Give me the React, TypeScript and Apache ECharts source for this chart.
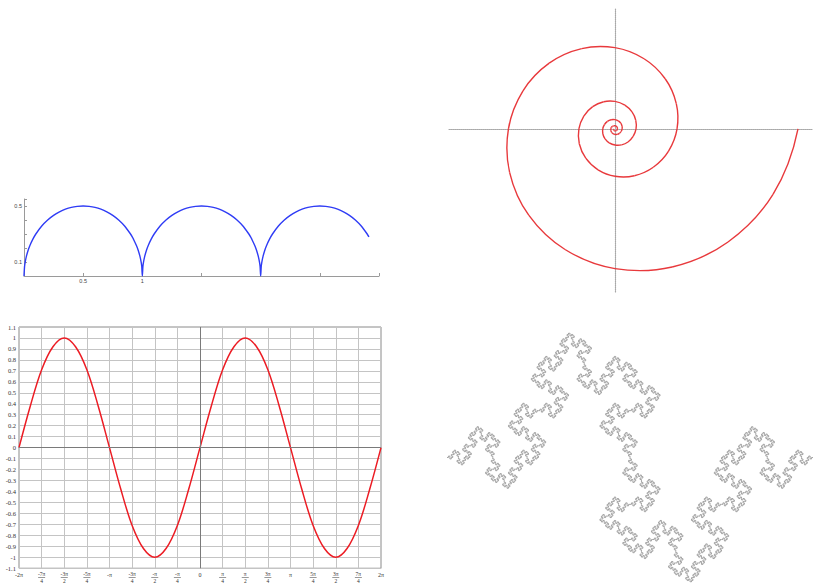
import React, { useEffect, useRef } from "react";
import * as echarts from "echarts";

// ---- Semicircular arches (unit width, height 0.5) ----
const ARCH_STARTS = [0, 1, 2];
const ARCH_END_X = 2.915;
const ARCH_PROFILE_X = [0, 0.005, 0.01, 0.02, 0.035, 0.05, 0.075, 0.1, 0.15, 0.2, 0.25, 0.3, 0.35, 0.4, 0.45, 0.5, 0.55, 0.6, 0.65, 0.7, 0.75, 0.8, 0.85, 0.9, 0.915, 0.925, 0.95, 0.965, 0.98, 0.99, 0.995, 1];
const ARCH_PROFILE_Y = [0, 0.0705, 0.0995, 0.14, 0.184, 0.218, 0.263, 0.3, 0.357, 0.4, 0.433, 0.458, 0.477, 0.49, 0.497, 0.5, 0.497, 0.49, 0.477, 0.458, 0.433, 0.4, 0.357, 0.3, 0.279, 0.263, 0.218, 0.184, 0.14, 0.0995, 0.0705, 0];
const ARCH_X_LABELS: Record<string, string> = { "0.5": "0.5", "1": "1" };
const ARCH_Y_LABELS: Record<string, string> = { "0.1": "0.1", "0.5": "0.5" };

// ---- Spiral: radius at every 1/16 turn, walking inward clockwise from the outer end ----
const SPIRAL_STEP_DEG = 22.5;
const SPIRAL_RADII = [
  1.0, 0.9346, 0.8735, 0.8164, 0.763, 0.7131, 0.6665, 0.6229,
  0.5822, 0.5441, 0.5085, 0.4753, 0.4442, 0.4152, 0.388, 0.3626,
  0.339, 0.3168, 0.2961, 0.2767, 0.2586, 0.2417, 0.2259, 0.2111,
  0.1973, 0.1844, 0.1724, 0.1611, 0.1506, 0.1407, 0.1315, 0.1229,
  0.1149, 0.1074, 0.1004, 0.0938, 0.0877, 0.0819, 0.0766, 0.0716,
  0.0669, 0.0625, 0.0584, 0.0546, 0.051, 0.0477, 0.0446, 0.0417,
  0.0389, 0.0364, 0.034, 0.0318, 0.0297, 0.0278, 0.026, 0.0243,
  0.0227, 0.0212, 0.0198, 0.0185, 0.0173, 0.0162, 0.0151, 0.0141,
  0.0132, 0.0123, 0.0115, 0.0108, 0.0101, 0.0094, 0.0088, 0.0082, 0.0077,
];

// ---- Sine wave: x in units of π/4, sampled every π/8 ----
const SINE_X = [-8, -7.5, -7, -6.5, -6, -5.5, -5, -4.5, -4, -3.5, -3, -2.5, -2, -1.5, -1, -0.5, 0, 0.5, 1, 1.5, 2, 2.5, 3, 3.5, 4, 4.5, 5, 5.5, 6, 6.5, 7, 7.5, 8];
const SINE_Y = [0, 0.38, 0.71, 0.92, 1, 0.92, 0.71, 0.38, 0, -0.38, -0.71, -0.92, -1, -0.92, -0.71, -0.38, 0, 0.38, 0.71, 0.92, 1, 0.92, 0.71, 0.38, 0, -0.38, -0.71, -0.92, -1, -0.92, -0.71, -0.38, 0];
const SINE_X_TICKS = ["-2π", "-7π/4", "-3π/2", "-5π/4", "-π", "-3π/4", "-π/2", "-π/4", "0", "π/4", "π/2", "3π/4", "π", "5π/4", "3π/2", "7π/4", "2π"];

// ---- Minkowski sausage (quadratic Koch curve, 8-segment generator) ----
const KOCH_ORDER = 4;
const KOCH_AXIOM = "F";
const KOCH_RULE = "F+F-F-FF+F+F-F";

function kochPoints(order: number): number[][] {
  let s = KOCH_AXIOM;
  for (let i = 0; i < order; i++) s = s.replace(/F/g, KOCH_RULE);
  const dx = [1, 0, -1, 0];
  const dy = [0, 1, 0, -1];
  let x = 0;
  let y = 0;
  let dir = 0;
  const pts: number[][] = [[0, 0]];
  for (const ch of s) {
    if (ch === "F") {
      x += dx[dir];
      y += dy[dir];
      pts.push([x, y]);
    } else if (ch === "+") {
      dir = (dir + 1) & 3;
    } else if (ch === "-") {
      dir = (dir + 3) & 3;
    }
  }
  return pts;
}

function buildArches(): number[][] {
  const out: number[][] = [];
  ARCH_STARTS.forEach((start, ai) => {
    ARCH_PROFILE_X.forEach((px, i) => {
      if (ai > 0 && i === 0) return;
      const x = start + px;
      if (x > ARCH_END_X + 1e-9) return;
      out.push([x, ARCH_PROFILE_Y[i]]);
    });
  });
  return out;
}

function buildSpiral(): number[][] {
  return SPIRAL_RADII.map((r, k) => {
    const t = (-k * SPIRAL_STEP_DEG * Math.PI) / 180;
    return [r * Math.cos(t), r * Math.sin(t)];
  });
}

function keyOf(v: number): string {
  return String(Math.round(v * 1000) / 1000);
}

export default function App() {
  const ref = useRef<HTMLDivElement>(null);

  useEffect(() => {
    if (!ref.current) return;
    const chart = echarts.init(ref.current, undefined, { renderer: "svg" });

    const koch = kochPoints(KOCH_ORDER);
    let minX = Infinity, maxX = -Infinity, minY = Infinity, maxY = -Infinity;
    koch.forEach(([x, y]) => {
      if (x < minX) minX = x;
      if (x > maxX) maxX = x;
      if (y < minY) minY = y;
      if (y > maxY) maxY = y;
    });

    const spiral = buildSpiral();
    const last = spiral.length - 1;

    const serif = "'Liberation Serif', 'DejaVu Serif', serif";
    const sans = "'Liberation Sans', 'DejaVu Sans', sans-serif";
    const dotted = { color: "#a8a8a8", width: 1.2, type: [1, 1] };

    chart.setOption({
      animation: false,
      backgroundColor: "#ffffff",
      grid: [
        { left: 24, top: 199, width: 355, height: 77 },
        { left: 449, top: 8, width: 364, height: 284 },
        { left: 19, top: 327, width: 362, height: 243, show: true, borderColor: "#8a8a8a", borderWidth: 1 },
        { left: 447, top: 333, width: 366, height: 249 },
      ],
      xAxis: [
        {
          gridIndex: 0,
          type: "value",
          min: 0,
          max: 3,
          interval: 0.5,
          axisLine: { lineStyle: { color: "#9a9a9a", width: 1 } },
          axisTick: { inside: true, length: 3, lineStyle: { color: "#9a9a9a" } },
          splitLine: { show: false },
          axisLabel: {
            margin: 2,
            fontSize: 5.5,
            fontFamily: sans,
            color: "#444",
            formatter: (v: number) => ARCH_X_LABELS[keyOf(v)] || "",
          },
        },
        {
          gridIndex: 1,
          type: "value",
          min: -0.907,
          max: 1.082,
          axisLine: { onZero: true, lineStyle: dotted },
          axisTick: { show: false },
          axisLabel: { show: false },
          splitLine: { show: false },
        },
        {
          gridIndex: 2,
          type: "value",
          min: -8,
          max: 8,
          interval: 1,
          axisLine: { show: false },
          axisTick: { show: false },
          splitLine: { show: true, lineStyle: { color: "#c4c4c4", width: 1 } },
          axisLabel: {
            margin: 3,
            color: "#333",
            fontFamily: serif,
            formatter: (v: number) => {
              const s = SINE_X_TICKS[Math.round(v) + 8] || "";
              if (s.includes("/")) {
                const [n, d] = s.split("/");
                return `{n|${n}}\n{b| }\n{d|${d}}`;
              }
              return `{s|${s}}`;
            },
            rich: {
              s: { fontSize: 6, fontFamily: serif, color: "#333", lineHeight: 7 },
              n: { fontSize: 5.5, fontFamily: serif, color: "#333", lineHeight: 5.5 },
              b: { width: 7, height: 0.6, lineHeight: 1.5, backgroundColor: "#555", fontSize: 1 },
              d: { fontSize: 5.5, fontFamily: serif, color: "#333", lineHeight: 5.5 },
            },
          },
        },
        {
          gridIndex: 3,
          type: "value",
          min: minX,
          max: maxX,
          show: false,
        },
      ],
      yAxis: [
        {
          gridIndex: 0,
          type: "value",
          min: 0,
          max: 0.55,
          interval: 0.1,
          axisLine: { show: true, lineStyle: { color: "#9a9a9a", width: 1 } },
          axisTick: { show: true, inside: true, length: 3, lineStyle: { color: "#9a9a9a" } },
          splitLine: { show: false },
          axisLabel: {
            margin: 2,
            fontSize: 5.5,
            fontFamily: sans,
            color: "#444",
            formatter: (v: number) => ARCH_Y_LABELS[keyOf(v)] || "",
          },
        },
        {
          gridIndex: 1,
          type: "value",
          min: -0.891,
          max: 0.661,
          axisLine: { onZero: true, lineStyle: dotted },
          axisTick: { show: false },
          axisLabel: { show: false },
          splitLine: { show: false },
        },
        {
          gridIndex: 2,
          type: "value",
          min: -1.1,
          max: 1.1,
          interval: 0.1,
          axisLine: { show: false },
          axisTick: { show: false },
          splitLine: { show: true, lineStyle: { color: "#c4c4c4", width: 1 } },
          axisLabel: { margin: 3, fontSize: 6.5, fontFamily: serif, color: "#333" },
        },
        {
          gridIndex: 3,
          type: "value",
          min: minY,
          max: maxY,
          show: false,
        },
      ],
      series: [
        {
          type: "line",
          xAxisIndex: 0,
          yAxisIndex: 0,
          data: buildArches(),
          symbol: "none",
          smooth: 0.3,
          lineStyle: { color: "#2f3cf5", width: 1.4 },
        },
        {
          // spiral drawn as Catmull-Rom bezier pieces between consecutive samples
          type: "custom",
          xAxisIndex: 1,
          yAxisIndex: 1,
          data: spiral.slice(0, last),
          encode: { x: 0, y: 1 },
          clip: false,
          renderItem: (params: any, api: any) => {
            const i = params.dataIndex;
            const P = (j: number) => api.coord(spiral[j]);
            const p1 = P(i);
            const p2 = P(i + 1);
            // at the two ends, continue the curve quadratically to get a tangent
            let p0: number[];
            if (i > 0) p0 = P(i - 1);
            else {
              const q = P(i + 2);
              p0 = [3 * p1[0] - 3 * p2[0] + q[0], 3 * p1[1] - 3 * p2[1] + q[1]];
            }
            let p3: number[];
            if (i + 2 <= last) p3 = P(i + 2);
            else {
              const q = P(i - 1);
              p3 = [3 * p2[0] - 3 * p1[0] + q[0], 3 * p2[1] - 3 * p1[1] + q[1]];
            }
            return {
              type: "bezierCurve",
              shape: {
                x1: p1[0],
                y1: p1[1],
                x2: p2[0],
                y2: p2[1],
                cpx1: p1[0] + (p2[0] - p0[0]) / 6,
                cpy1: p1[1] + (p2[1] - p0[1]) / 6,
                cpx2: p2[0] - (p3[0] - p1[0]) / 6,
                cpy2: p2[1] - (p3[1] - p1[1]) / 6,
              },
              style: { stroke: "#e8393c", lineWidth: 1.4, fill: "none" },
            };
          },
        },
        {
          type: "line",
          xAxisIndex: 2,
          yAxisIndex: 2,
          data: SINE_X.map((x, i) => [x, SINE_Y[i]]),
          symbol: "none",
          smooth: 0.35,
          lineStyle: { color: "#ec1c24", width: 1.5 },
          markLine: {
            silent: true,
            symbol: "none",
            label: { show: false },
            lineStyle: { color: "#7a7a7a", width: 1, type: "solid" },
            data: [{ xAxis: 0 }, { yAxis: 0 }],
          },
          z: 3,
        },
        {
          type: "line",
          xAxisIndex: 3,
          yAxisIndex: 3,
          data: koch,
          symbol: "none",
          lineStyle: { color: "#8f8f8f", width: 0.8 },
        },
      ],
    });

    return () => chart.dispose();
  }, []);

  return (
    <div
      ref={ref}
      style={{ position: "fixed", left: 0, top: 0, width: 814, height: 584, background: "#fff" }}
    />
  );
}
